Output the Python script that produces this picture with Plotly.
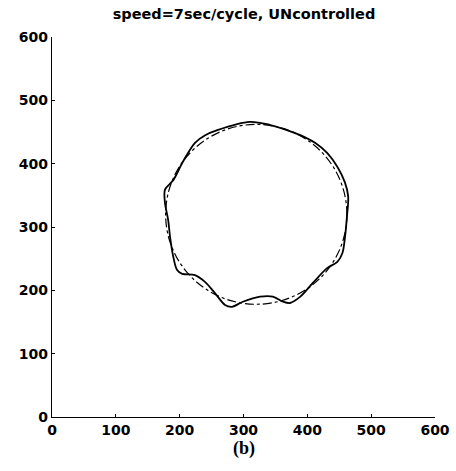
import plotly.graph_objects as go

# Commanded path: a circle given by its centre and radius
ref_center_x = 320
ref_center_y = 320
ref_radius = 142

# Measured end-effector path (counter-clockwise from the top)
path_x = [310, 259, 240, 224, 205, 190, 177, 177, 182, 185, 190, 196, 204, 224,
          240, 255, 271, 282, 299, 326, 346, 362, 373, 389, 409, 431, 447, 455,
          459, 462, 464, 459, 447, 431, 412, 389, 368, 342, 310]
path_y = [466, 453, 445, 433, 403, 374, 359, 338, 311, 284, 253, 232, 226, 224,
          213, 196, 177, 174, 182, 190, 190, 182, 180, 190, 212, 235, 245, 259,
          284, 316, 348, 370, 395, 417, 433, 445, 453, 461, 466]

tick_vals = [0, 100, 200, 300, 400, 500, 600]

SANS = "DejaVu Sans, Arial, sans-serif"

fig = go.Figure()

fig.add_trace(go.Scatter(
    x=path_x, y=path_y, mode="lines",
    line=dict(color="black", width=1.8, shape="spline", smoothing=0.9),
    showlegend=False, hoverinfo="skip",
))

fig.add_shape(
    type="circle", xref="x", yref="y",
    x0=ref_center_x - ref_radius, x1=ref_center_x + ref_radius,
    y0=ref_center_y - ref_radius, y1=ref_center_y + ref_radius,
    line=dict(color="black", width=1.2, dash="dashdot"),
)

axis_common = dict(
    range=[0, 600], tickvals=tick_vals, ticktext=[str(v) for v in tick_vals],
    showgrid=False, zeroline=False, showline=True, linecolor="black", linewidth=1.3,
    ticks="inside", ticklen=3, tickcolor="black",
    tickfont=dict(family=SANS, size=14, color="black", weight="bold"),
    mirror=False, automargin=False,
)

fig.update_xaxes(**axis_common)
fig.update_yaxes(**axis_common)

fig.update_layout(
    width=456, height=471,
    margin=dict(l=52, r=21, t=37, b=54),
    paper_bgcolor="white", plot_bgcolor="white",
    title=dict(
        text="speed=7sec/cycle, UNcontrolled",
        x=0.535, xanchor="center", y=0.982, yanchor="top",
        font=dict(family=SANS, size=14.5, color="black", weight="bold"),
    ),
    annotations=[dict(
        text="<b>(b)</b>", xref="paper", yref="paper", x=0.5, y=-0.05,
        xanchor="center", yanchor="top", showarrow=False,
        font=dict(family="Liberation Serif, Times New Roman, serif", size=18, color="black"),
    )],
)

fig.write_html("out.html")
